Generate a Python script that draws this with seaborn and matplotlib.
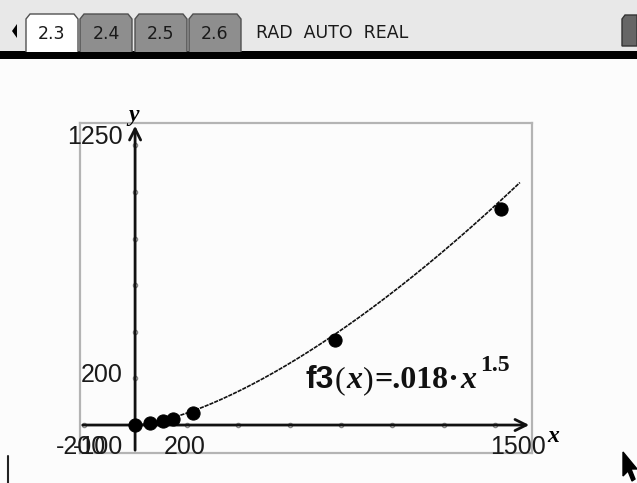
import numpy as np
import pandas as pd
import seaborn as sns
import matplotlib.pyplot as plt
from matplotlib.patches import Rectangle, Polygon

# data
dist = [0, 57, 108, 148, 224, 777, 1420]
period = [0, 7, 18, 28, 50, 365, 927]
coef = 0.018
power = 1.5
x_end = 1495
x_ticks = [-200, 200, 400, 600, 800, 1000, 1200, 1400]
y_ticks = [200, 400, 600, 800, 1000, 1200]
tabs = ['2.3', '2.4', '2.5', '2.6']
mode_text = 'RAD  AUTO  REAL'
win_labels = {'xmin': '-200', 'xmax': '1500', 'ymin': '-100', 'ymax': '1250',
              'xscl': '200', 'yscl': '200'}
# equation pieces: text, family, style, weight
eq_parts = [('f3', 'Liberation Sans', 'normal', 'bold'),
            ('(', 'Liberation Serif', 'normal', 'normal'),
            ('x', 'Liberation Serif', 'italic', 'bold'),
            (')', 'Liberation Serif', 'normal', 'normal'),
            ('=.018·', 'Liberation Serif', 'normal', 'bold'),
            ('x', 'Liberation Serif', 'italic', 'bold')]
exponent = '1.5'

W, H = 637, 483


def fx(x):
    return x / W


def fy(y):
    return 1 - y / H


sns.set_style('white')
plt.rcParams['font.family'] = ['Liberation Sans', 'DejaVu Sans']

fig = plt.figure(figsize=(W / 100, H / 100), dpi=100)
fig.patch.set_facecolor('#fcfcfc')

# top bar
fig.patches.append(Rectangle((0, fy(51)), 1, 1 - fy(51), transform=fig.transFigure,
                             facecolor='#e8e8e8', edgecolor='none'))
fig.patches.append(Rectangle((0, fy(59)), 1, fy(51) - fy(59), transform=fig.transFigure,
                             facecolor='black', edgecolor='none'))
fig.patches.append(Polygon([(fx(12), fy(31)), (fx(17), fy(24)), (fx(17), fy(38))],
                           transform=fig.transFigure, facecolor='black', edgecolor='none'))
tab_x = [26, 80, 135, 189]
for i, t in enumerate(tabs):
    x0 = tab_x[i]
    x1 = x0 + 52
    pts = [(x0, 52), (x0, 19), (x0 + 4, 14), (x1 - 4, 14), (x1, 19), (x1, 52)]
    fig.patches.append(Polygon([(fx(a), fy(b)) for a, b in pts], closed=False,
                               transform=fig.transFigure,
                               facecolor='white' if i == 0 else '#8e8e8e',
                               edgecolor='#505050', lw=1))
    fig.text(fx(x0 + 26), fy(34), t, ha='center', va='center', fontsize=12.5,
             family='DejaVu Sans', color='#1a1a1a')
fig.text(fx(256), fy(33), mode_text, ha='left', va='center', fontsize=12.5,
         family='DejaVu Sans', color='#1a1a1a')
fig.patches.append(Polygon([(fx(a), fy(b)) for a, b in
                            [(622, 46), (622, 19), (625, 15), (637, 15), (637, 46)]],
                           transform=fig.transFigure, facecolor='#666666', edgecolor='#333333', lw=1))

# graph window
ax = fig.add_axes([fx(80), fy(453), fx(452), 330 / H])
ax.set_facecolor('#fcfcfc')
xmin, xmax = -214, 1542
ymin, ymax = -120, 1296
ax.set_xlim(xmin, xmax)
ax.set_ylim(ymin, ymax)
ax.set_xticks([])
ax.set_yticks([])
for s in ax.spines.values():
    s.set_color('#b4b4b4')
    s.set_linewidth(1.6)

ax.annotate('', xy=(xmax, 0), xytext=(xmin, 0),
            arrowprops=dict(arrowstyle='->', lw=2, color='#111111', mutation_scale=20))
ax.annotate('', xy=(0, ymax), xytext=(0, ymin),
            arrowprops=dict(arrowstyle='->', lw=2, color='#111111', mutation_scale=20))
ax.plot(x_ticks, [0] * len(x_ticks), 'o', ms=3, mfc='white', mec='#888888', mew=1)
ax.plot([0] * len(y_ticks), y_ticks, 'o', ms=3, mfc='white', mec='#888888', mew=1)

curve = pd.DataFrame({'x': np.linspace(0, x_end, 300)})
curve['y'] = coef * curve['x'] ** power
sns.lineplot(data=curve, x='x', y='y', ax=ax, color='#111111', lw=1.2,
             linestyle=(0, (2.5, 0.6)))
pts = pd.DataFrame({'x': dist, 'y': period})
sns.scatterplot(data=pts, x='x', y='y', ax=ax, color='black', s=90,
                edgecolor='black', zorder=5)
ax.set_xlabel('')
ax.set_ylabel('')

# window labels
lab = dict(fontsize=18, color='#1a1a1a')
fig.text(fx(123), fy(137), win_labels['ymax'], ha='right', va='center', **lab)
fig.text(fx(123), fy(375), win_labels['yscl'], ha='right', va='center', **lab)
fig.text(fx(185), fy(447), win_labels['xscl'], ha='center', va='center', **lab)
fig.text(fx(56), fy(447), win_labels['xmin'], ha='left', va='center', **lab)
fig.text(fx(123), fy(447), win_labels['ymin'], ha='right', va='center', **lab)
fig.text(fx(546), fy(447), win_labels['xmax'], ha='right', va='center', **lab)
fig.text(fx(553), fy(437), 'x', ha='center', va='center', fontsize=17,
         family='Liberation Serif', style='italic', weight='bold', color='black')
fig.text(fx(134), fy(115), 'y', ha='center', va='center', fontsize=17,
         family='Liberation Serif', style='italic', weight='bold', color='black')

# equation, laid out piece by piece
renderer = fig.canvas.get_renderer()
xpos = 305
for txt, fam, sty, wt in eq_parts:
    t = fig.text(fx(xpos), fy(388), txt, ha='left', va='baseline', fontsize=23,
                 family=fam, style=sty, weight=wt, color='#111111')
    xpos += t.get_window_extent(renderer).width + 1
fig.text(fx(xpos + 3), fy(371), exponent, ha='left', va='baseline', fontsize=17,
         family='Liberation Serif', weight='bold', color='#111111')

# page edge and cursor
fig.add_artist(plt.Line2D([fx(8), fx(8)], [fy(456), 0], color='#222222', lw=1.5))
cur = [(623, 452), (623, 476), (628, 471), (632, 481), (635, 479), (631, 469), (637, 469)]
fig.patches.append(Polygon([(fx(a), fy(b)) for a, b in cur], transform=fig.transFigure,
                           facecolor='black', edgecolor='black'))

fig.savefig('out.png', dpi=100, facecolor=fig.get_facecolor())
